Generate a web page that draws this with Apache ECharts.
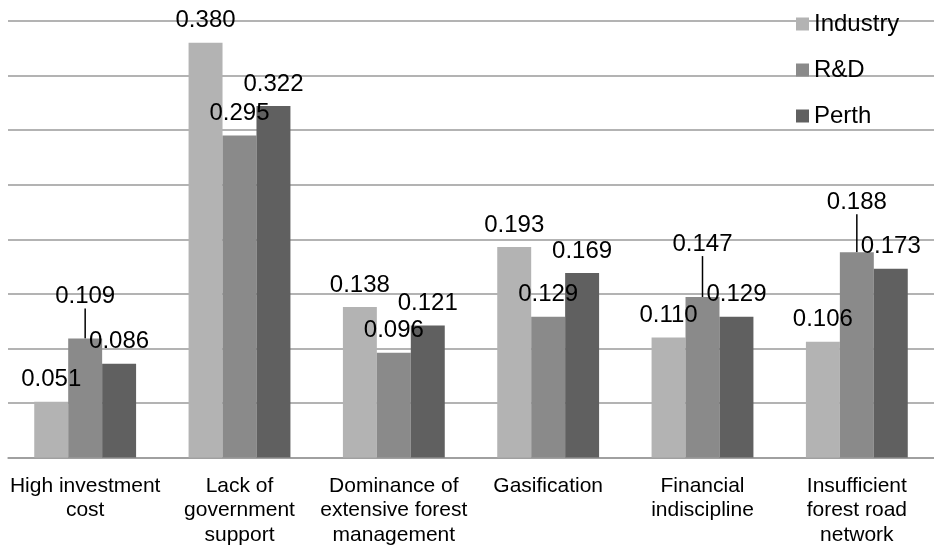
<!DOCTYPE html>
<html>
<head>
<meta charset="utf-8">
<script src="https://cdn.jsdelivr.net/npm/echarts@6/dist/echarts.min.js"></script>
<style>
  html, body { margin: 0; padding: 0; background: #fff; }
  #chart { width: 934px; height: 547px; }
</style>
</head>
<body>
<div id="chart"></div>
<script>
// Barriers ranked by three stakeholder groups
const categories = [
  'High investment\ncost',
  'Lack of\ngovernment\nsupport',
  'Dominance of\nextensive forest\nmanagement',
  'Gasification',
  'Financial\nindiscipline',
  'Insufficient\nforest road\nnetwork'
];
const industry = [0.051, 0.380, 0.138, 0.193, 0.110, 0.106];
const rnd      = [0.109, 0.295, 0.096, 0.129, 0.147, 0.188];
const perth    = [0.086, 0.322, 0.121, 0.169, 0.129, 0.173];

const FONT = '"Liberation Sans", Arial, sans-serif';

// Labels pulled upward with a leader line (series index -> {dataIndex: lift in px})
const liftedLabels = { 1: { 0: 11, 4: 22, 5: 19 } };
const LEADER_GAP = 9;

function buildData(values, seriesIdx) {
  const lifts = liftedLabels[seriesIdx] || {};
  return values.map((v, i) => {
    if (lifts[i] === undefined) return v;
    return {
      value: v,
      label: { padding: [0, 0, LEADER_GAP, 0] },
      labelLine: { show: true, lineStyle: { color: '#000', width: 1.5 } }
    };
  });
}

const names = ['Industry', 'R&D', 'Perth'];
const colors = ['#b3b3b3', '#8a8a8a', '#606060'];
const values = [industry, rnd, perth];

const chart = echarts.init(document.getElementById('chart'), null, { renderer: 'canvas' });
chart.setOption({
  animation: false,
  backgroundColor: '#fff',
  textStyle: { fontFamily: FONT },
  grid: { left: 8, right: -4, top: 21, bottom: 86, containLabel: false },
  legend: {
    orient: 'vertical',
    left: 791,
    top: 7,
    itemWidth: 13,
    itemHeight: 13,
    itemGap: 22,
    icon: 'rect',
    textStyle: { fontSize: 24, color: '#000', fontFamily: FONT },
    data: names
  },
  xAxis: {
    type: 'category',
    data: categories,
    axisTick: { show: false },
    axisLine: { show: true, lineStyle: { color: '#9a9a9a', width: 1.5 } },
    axisLabel: {
      interval: 0,
      margin: 16,
      fontSize: 21,
      lineHeight: 24.5,
      color: '#000',
      fontFamily: FONT,
      align: 'center'
    }
  },
  yAxis: {
    type: 'value',
    min: 0,
    max: 0.4,
    interval: 0.05,
    axisLabel: { show: false },
    axisLine: { show: false },
    axisTick: { show: false },
    splitLine: { show: true, lineStyle: { color: '#9a9a9a', width: 1.5 } }
  },
  series: values.map((vals, si) => ({
    name: names[si],
    type: 'bar',
    barGap: '0%',
    barCategoryGap: '34%',
    itemStyle: { color: colors[si] },
    label: {
      show: true,
      position: 'top',
      distance: 10,
      fontSize: 24,
      color: '#000',
      fontFamily: FONT,
      formatter: p => p.value.toFixed(3)
    },
    labelLayout: params => {
      const lifts = liftedLabels[params.seriesIndex] || {};
      const lift = lifts[params.dataIndex];
      return lift === undefined ? {} : { dy: -lift };
    },
    data: buildData(vals, si)
  }))
});
</script>
</body>
</html>
